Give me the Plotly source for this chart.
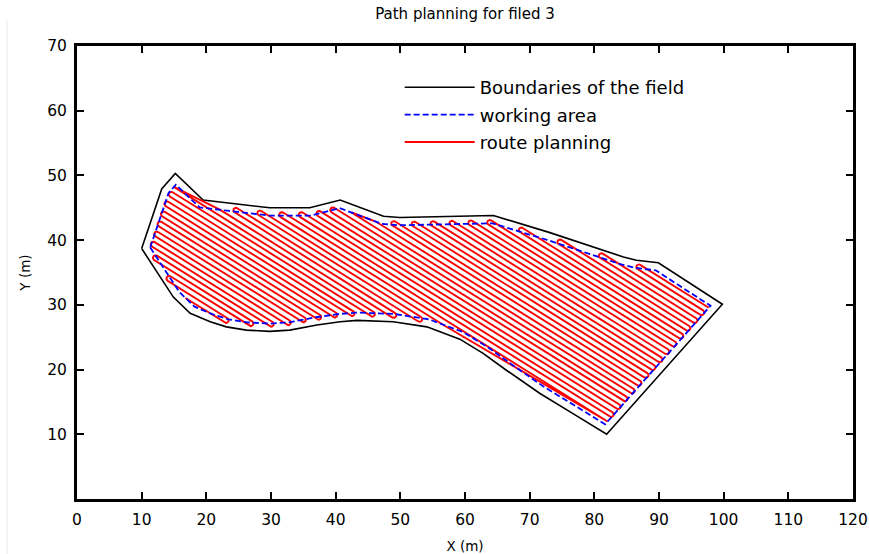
import math
import plotly.graph_objects as go

# ---------------- data ----------------
# field boundary (m), clockwise
boundary_x = [10.0, 13.1, 15.2, 19.5, 29.8, 36.0, 40.7, 47.4, 49.9, 64.4, 73.0, 84.5, 86.5, 89.9, 99.8,
              81.9, 76.7, 71.6, 66.4, 62.8, 59.2, 56.1, 54.1, 48.9, 43.3, 40.7, 37.1, 32.9, 29.8, 26.2,
              23.1, 20.6, 17.5, 14.9]
boundary_y = [38.7, 47.9, 50.3, 46.2, 45.0, 45.0, 46.2, 43.7, 43.5, 43.8, 41.2, 37.4, 36.9, 36.5, 30.1,
              10.0, 13.2, 16.3, 19.9, 22.5, 24.7, 25.8, 26.6, 27.4, 27.6, 27.4, 26.9, 26.1, 25.9, 26.1,
              26.6, 27.4, 28.7, 31.2]
working_margin = 1.2        # inset of the working area (m)
stripe_angle_deg = 32.0     # stripes descend to the right at this angle
stripe_spacing = 0.8        # distance between passes (m)
turn_overrun_max = 3.5      # longest run past the working edge to meet the neighbour pass (m)

x_ticks = list(range(0, 121, 10))
y_ticks = list(range(10, 71, 10))

title_text = "Path planning for filed 3"
x_label = "X (m)"
y_label = "Y (m)"
names = ["Boundaries of the field", "working area", "route planning"]


# ---------------- geometry helpers ----------------
def inset_polygon(xs, ys, d):
    n = len(xs)
    area = sum(xs[i] * ys[(i + 1) % n] - xs[(i + 1) % n] * ys[i] for i in range(n)) / 2.0
    sgn = 1.0 if area > 0 else -1.0
    out_x, out_y = [], []
    for i in range(n):
        p0 = (xs[i - 1], ys[i - 1])
        p1 = (xs[i], ys[i])
        p2 = (xs[(i + 1) % n], ys[(i + 1) % n])
        d1 = (p1[0] - p0[0], p1[1] - p0[1])
        d2 = (p2[0] - p1[0], p2[1] - p1[1])
        l1 = math.hypot(*d1)
        l2 = math.hypot(*d2)
        n1 = (-d1[1] / l1 * sgn, d1[0] / l1 * sgn)
        n2 = (-d2[1] / l2 * sgn, d2[0] / l2 * sgn)
        a = (p0[0] + d * n1[0], p0[1] + d * n1[1])
        b = (p1[0] + d * n2[0], p1[1] + d * n2[1])
        den = d1[0] * d2[1] - d1[1] * d2[0]
        if abs(den) < 1e-9:
            out_x.append(p1[0] + d * n1[0])
            out_y.append(p1[1] + d * n1[1])
            continue
        t = ((b[0] - a[0]) * d2[1] - (b[1] - a[1]) * d2[0]) / den
        out_x.append(a[0] + t * d1[0])
        out_y.append(a[1] + t * d1[1])
    return out_x, out_y


work_x, work_y = inset_polygon(boundary_x, boundary_y, working_margin)

ang = math.radians(stripe_angle_deg)
eu = (math.cos(ang), -math.sin(ang))   # along stripe
ev = (math.sin(ang), math.cos(ang))    # across stripes


def to_uv(x, y):
    return x * eu[0] + y * eu[1], x * ev[0] + y * ev[1]


def to_xy(u, v):
    return u * eu[0] + v * ev[0], u * eu[1] + v * ev[1]


uv = [to_uv(x, y) for x, y in zip(work_x, work_y)]
vs_all = [p[1] for p in uv]
v_lo, v_hi = min(vs_all), max(vs_all)

lines = []
k = 0
while True:
    v = v_lo + stripe_spacing * (k + 0.5)
    if v >= v_hi:
        break
    us = []
    m = len(uv)
    for i in range(m):
        ua, va = uv[i]
        ub, vb = uv[(i + 1) % m]
        if (va - v) * (vb - v) < 0:
            t = (v - va) / (vb - va)
            us.append(ua + t * (ub - ua))
    if len(us) >= 2:
        lines.append((v, min(us), max(us)))
    k += 1

r = stripe_spacing / 2.0
N = len(lines)

# each turn: (end u of pass i, start u of pass i+1, arc points between)
turns = {}
for i in range(N - 1):
    v0, v1 = lines[i][0], lines[i + 1][0]
    cv, rr = (v0 + v1) / 2.0, (v1 - v0) / 2.0
    far = (i % 2 == 0)
    a, b = (lines[i][2], lines[i + 1][2]) if far else (lines[i][1], lines[i + 1][1])
    if abs(a - b) > turn_overrun_max:
        turns[i] = (a, b, [])
        continue
    if far:
        cu = max(a, b) - r
        arc = [(cu + rr * math.cos(-math.pi / 2 + math.pi * j / 12),
                cv + rr * math.sin(-math.pi / 2 + math.pi * j / 12)) for j in range(1, 12)]
    else:
        cu = min(a, b) + r
        arc = [(cu + rr * math.cos(1.5 * math.pi - math.pi * j / 12),
                cv + rr * math.sin(1.5 * math.pi - math.pi * j / 12)) for j in range(1, 12)]
    turns[i] = (cu, cu, arc)

route_x, route_y = [], []


def add(u, v):
    x, y = to_xy(u, v)
    route_x.append(x)
    route_y.append(y)


for i in range(N):
    v, umin, umax = lines[i]
    u_start = umin if i == 0 else turns[i - 1][1]
    if i == N - 1:
        u_end = umax if i % 2 == 0 else umin
    else:
        u_end = turns[i][0]
    add(u_start, v)
    add(u_end, v)
    if i < N - 1:
        for pu, pv in turns[i][2]:
            add(pu, pv)

# ---------------- figure ----------------
fig = go.Figure()
fig.add_trace(go.Scatter(
    x=boundary_x + boundary_x[:1], y=boundary_y + boundary_y[:1], mode="lines",
    line=dict(color="black", width=1.6), name=names[0], legendrank=1, legendgroup="g1"))
fig.add_trace(go.Scatter(
    x=route_x, y=route_y, mode="lines",
    line=dict(color="#ff0000", width=1.9), name=names[2], legendrank=3, legendgroup="g3"))
fig.add_trace(go.Scatter(
    x=work_x + work_x[:1], y=work_y + work_y[:1], mode="lines",
    line=dict(color="#0000ff", width=1.8, dash="6px,3px"), name=names[1], legendrank=2,
    legendgroup="g2"))

font_family = "DejaVu Sans, Verdana, sans-serif"
fig.update_layout(
    width=869, height=554,
    margin=dict(l=77, r=16, t=46, b=55, autoexpand=False),
    paper_bgcolor="white", plot_bgcolor="white",
    font=dict(family=font_family, color="black"),
    title=dict(text=title_text, x=0.5, xref="paper", xanchor="center",
               y=1 - 14 / 554, yanchor="middle", font=dict(size=15, color="black")),
    showlegend=True,
    legend=dict(x=(409 - 77) / 776 - 0.012, y=1 - (69 - 46) / 453, xanchor="left", yanchor="top",
                bgcolor="rgba(0,0,0,0)", borderwidth=0,
                font=dict(size=18, color="black"), itemwidth=70,
                tracegroupgap=1),
    shapes=[dict(type="line", xref="paper", yref="paper",
                 x0=-70 / 776, x1=-70 / 776, y0=-55 / 453, y1=1 + 26 / 453,
                 line=dict(color="#e4e9ef", width=1))],
)
fig.update_xaxes(
    range=[0, 120], tickvals=x_ticks, ticktext=[str(t) for t in x_ticks],
    automargin=False,
    showgrid=False, zeroline=False, showline=True, linecolor="black", linewidth=3,
    mirror="ticks", ticks="inside", ticklen=7, tickwidth=2, tickcolor="black",
    tickfont=dict(size=15.5, color="black"), ticklabelstandoff=4,
    title=dict(text=x_label, font=dict(size=13.5, color="black"), standoff=14),
)
fig.update_yaxes(
    range=[0, 70], tickvals=y_ticks, ticktext=[str(t) for t in y_ticks],
    automargin=False,
    showgrid=False, zeroline=False, showline=True, linecolor="black", linewidth=3,
    mirror="ticks", ticks="inside", ticklen=7, tickwidth=2, tickcolor="black",
    tickfont=dict(size=15.5, color="black"), ticklabelstandoff=4,
    title=dict(text=y_label, font=dict(size=13.5, color="black"), standoff=14),
)

fig.write_html("out.html")
